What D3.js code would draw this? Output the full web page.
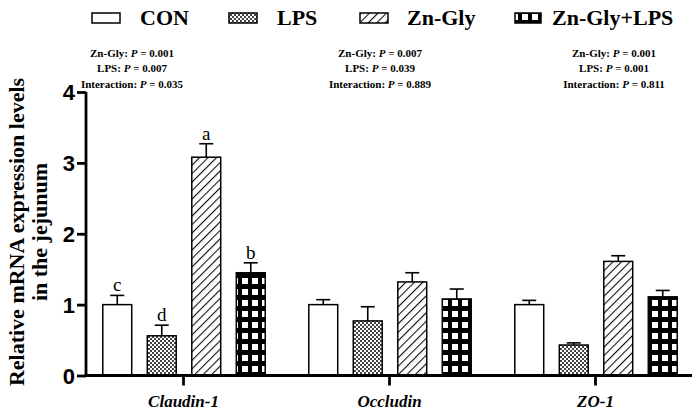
<!DOCTYPE html>
<html>
<head>
<meta charset="utf-8">
<script src="https://cdn.jsdelivr.net/npm/d3@7"></script>
<style>
  body { margin: 0; background: #fff; }
  svg { display: block; }
</style>
</head>
<body>
<div id="chart"></div>
<script>
// ......................
// Data
var genes = ["Claudin-1", "Occludin", "ZO-1"];
var groups = ["CON", "LPS", "Zn-Gly", "Zn-Gly+LPS"];

// mean values per group (one array per treatment, in gene order)
var conMeans = [1.00, 1.00, 1.00];
var lpsMeans = [0.56, 0.77, 0.43];
var znMeans = [3.08, 1.32, 1.61];
var znLpsMeans = [1.45, 1.08, 1.11];

// upper end of the error bars
var conErr = [1.13, 1.07, 1.06];
var lpsErr = [0.71, 0.97, 0.46];
var znErr = [3.27, 1.45, 1.69];
var znLpsErr = [1.59, 1.22, 1.20];

// significance letters (only Claudin-1 has them)
var claudinLetters = ["c", "d", "a", "b"];

// P-value notes above each gene
var pZn = ["0.001", "0.007", "0.001"];
var pLps = ["0.007", "0.039", "0.001"];
var pInter = ["0.035", "0.889", "0.811"];

var yTicks = [0, 1, 2, 3, 4];

// ......................
// SVG area
var svgWidth = 696;
var svgHeight = 412;

var svg = d3.select("#chart")
    .append("svg")
    .attr("width", svgWidth)
    .attr("height", svgHeight);

var serif = "'Liberation Serif', 'Times New Roman', serif";
var sans = "'Liberation Sans', Arial, sans-serif";

// ......................
// Patterns for the bar fills
var defs = svg.append("defs");

// LPS: fine checkerboard
var pChk = defs.append("pattern")
    .attr("id", "pat-lps")
    .attr("patternUnits", "userSpaceOnUse")
    .attr("width", 4).attr("height", 4);
pChk.append("rect").attr("width", 4).attr("height", 4).attr("fill", "#fff");
pChk.append("rect").attr("width", 2).attr("height", 2).attr("fill", "#444");
pChk.append("rect").attr("x", 2).attr("y", 2).attr("width", 2).attr("height", 2).attr("fill", "#444");

// Zn-Gly: diagonal hatching
var pHatch = defs.append("pattern")
    .attr("id", "pat-zn")
    .attr("patternUnits", "userSpaceOnUse")
    .attr("width", 6).attr("height", 6)
    .attr("patternTransform", "rotate(45)");
pHatch.append("rect").attr("width", 6).attr("height", 6).attr("fill", "#fff");
pHatch.append("line")
    .attr("x1", 0).attr("y1", 0).attr("x2", 0).attr("y2", 6)
    .attr("stroke", "#111").attr("stroke-width", 2.2);

// Zn-Gly+LPS: black grid with white squares
var pGrid = defs.append("pattern")
    .attr("id", "pat-znlps")
    .attr("patternUnits", "userSpaceOnUse")
    .attr("width", 10).attr("height", 11);
pGrid.append("rect").attr("width", 10).attr("height", 11).attr("fill", "#000");
pGrid.append("rect").attr("x", 2).attr("y", 3).attr("width", 6).attr("height", 6).attr("fill", "#fff");

var fills = {
    "CON": "#fff",
    "LPS": "url(#pat-lps)",
    "Zn-Gly": "url(#pat-zn)",
    "Zn-Gly+LPS": "url(#pat-znlps)"
};

// ......................
// Scales
var xScale = d3.scalePoint()
    .domain(genes)
    .range([183, 595]);

var xInner = d3.scaleBand()
    .domain(groups)
    .range([-88, 90])
    .paddingInner(0.35)
    .paddingOuter(0.175);

var yScale = d3.scaleLinear()
    .domain([0, 4])
    .range([375.5, 92]);

var axisLeft = 86;
var axisRight = 692;

// build rows from the named arrays
var meanTable = [conMeans, lpsMeans, znMeans, znLpsMeans];
var errTable = [conErr, lpsErr, znErr, znLpsErr];
var rows = [];
genes.forEach(function(g, gi) {
    groups.forEach(function(grp, k) {
        rows.push({
            gene: g,
            group: grp,
            value: meanTable[k][gi],
            err: errTable[k][gi],
            letter: gi === 0 ? claudinLetters[k] : ""
        });
    });
});

function barMid(d) {
    return xScale(d.gene) + xInner(d.group) + xInner.bandwidth() / 2;
}

// ......................
// Bars
var bars = svg.append("g").attr("class", "bars");

bars.selectAll("rect")
    .data(rows)
    .enter()
    .append("rect")
    .attr("x", function(d) { return xScale(d.gene) + xInner(d.group); })
    .attr("y", function(d) { return yScale(d.value); })
    .attr("width", xInner.bandwidth())
    .attr("height", function(d) { return yScale(0) - yScale(d.value); })
    .attr("fill", function(d) { return fills[d.group]; })
    .attr("stroke", "#000")
    .attr("stroke-width", 1.5);

// error bars (upper only)
var errG = svg.append("g").attr("class", "errors")
    .attr("stroke", "#000")
    .attr("stroke-width", 1.6);

errG.selectAll("line.stem")
    .data(rows)
    .enter()
    .append("line")
    .attr("class", "stem")
    .attr("x1", barMid)
    .attr("x2", barMid)
    .attr("y1", function(d) { return yScale(d.value); })
    .attr("y2", function(d) { return yScale(d.err); });

errG.selectAll("line.cap")
    .data(rows)
    .enter()
    .append("line")
    .attr("class", "cap")
    .attr("x1", function(d) { return barMid(d) - 7; })
    .attr("x2", function(d) { return barMid(d) + 7; })
    .attr("y1", function(d) { return yScale(d.err); })
    .attr("y2", function(d) { return yScale(d.err); });

// significance letters
svg.append("g")
    .selectAll("text")
    .data(rows.filter(function(d) { return d.letter; }))
    .enter()
    .append("text")
    .attr("x", barMid)
    .attr("y", function(d) { return yScale(d.err) - 4; })
    .attr("text-anchor", "middle")
    .attr("fill", "#000")
    .style("font-family", serif)
    .style("font-size", "19px")
    .text(function(d) { return d.letter; });

// ......................
// Axes
var yAxis = d3.axisLeft(yScale)
    .tickValues(yTicks)
    .tickSize(9)
    .tickPadding(2)
    .tickFormat(d3.format("d"));

var yG = svg.append("g")
    .attr("transform", "translate(" + axisLeft + ",0)")
    .call(yAxis);
yG.select(".domain").attr("d", "M0," + (yScale(4)) + "V" + yScale(0));
yG.selectAll("path, line").attr("stroke", "#000").attr("stroke-width", 2.8);
yG.selectAll("text")
    .attr("fill", "#000")
    .style("font-family", sans)
    .style("font-weight", "bold")
    .style("font-size", "22px")
    .attr("dy", "0.36em");

var xAxis = d3.axisBottom(xScale)
    .tickSize(10)
    .tickPadding(9);

var xG = svg.append("g")
    .attr("transform", "translate(0," + yScale(0) + ")")
    .call(xAxis);
xG.select(".domain").attr("d", "M" + (axisLeft - 1.4) + ",0H" + axisRight);
xG.selectAll("path, line").attr("stroke", "#000").attr("stroke-width", 2.8);
xG.selectAll("text")
    .attr("fill", "#000")
    .style("font-family", serif)
    .style("font-weight", "bold")
    .style("font-style", "italic")
    .style("font-size", "17px");

// y-axis title
var yTitle = svg.append("text")
    .attr("transform", "translate(24,232) rotate(-90)")
    .attr("text-anchor", "middle")
    .attr("fill", "#000")
    .style("font-family", serif)
    .style("font-weight", "bold")
    .style("font-size", "22px");
yTitle.append("tspan").attr("x", 0).attr("dy", 0).text("Relative mRNA expression levels");
yTitle.append("tspan").attr("x", 0).attr("dy", 22.5).text("in the jejunum");

// ......................
// P-value notes
var noteX = [132, 380, 614];
var notes = svg.append("g")
    .attr("fill", "#000")
    .style("font-family", serif)
    .style("font-weight", "bold")
    .style("font-size", "11px")
    .attr("text-anchor", "middle");

genes.forEach(function(g, i) {
    var lines = [["Zn-Gly", pZn[i]], ["LPS", pLps[i]], ["Interaction", pInter[i]]];
    lines.forEach(function(l, j) {
        var t = notes.append("text")
            .attr("x", noteX[i])
            .attr("y", 56.5 + j * 15.5);
        t.append("tspan").text(l[0] + ": ");
        t.append("tspan").style("font-style", "italic").text("P");
        t.append("tspan").text(" = " + l[1]);
    });
});

// ......................
// Legend
var legendX = [92, 229, 360, 515];
var legendTextX = [140, 277, 407, 552];
var legend = svg.append("g").attr("class", "legend");

groups.forEach(function(grp, i) {
    legend.append("rect")
        .attr("x", legendX[i])
        .attr("y", 13)
        .attr("width", i === 3 ? 26 : 28)
        .attr("height", 10)
        .attr("fill", fills[grp])
        .attr("stroke", "#000")
        .attr("stroke-width", 1.5);
    legend.append("text")
        .attr("x", legendTextX[i])
        .attr("y", 25)
        .attr("fill", "#000")
        .style("font-family", serif)
        .style("font-weight", "bold")
        .style("font-size", "22px")
        .text(grp);
});
</script>
</body>
</html>
